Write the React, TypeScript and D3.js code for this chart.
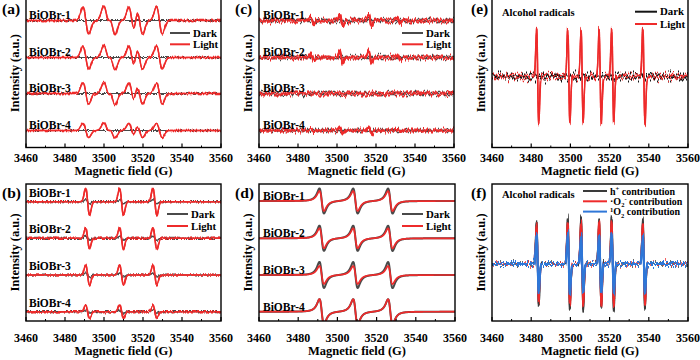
import React from "react";
import * as d3 from "d3";

// ---------- shared axis data ----------
const FIELD_DOMAIN: [number, number] = [3460, 3560];
const MAJOR_TICKS = [3460, 3480, 3500, 3520, 3540, 3560];
const MINOR_TICKS = [3470, 3490, 3510, 3530, 3550];
const SAMPLE_NAMES = ["BiOBr-1", "BiOBr-2", "BiOBr-3", "BiOBr-4"];

// ---------- (a) DMPO-·O2- spectra ----------
const aLinePositions = [3490.7, 3501.3, 3504.3, 3514.2, 3518.3, 3528.4];
const aLineRelative = [1, 1, 1, 1, 1, 1];
const aLineWidth = 1.5;
const aBaselines = [127, 90, 54, 17];
const aLightAmplitude = [13.5, 11.5, 10.5, 7];
const aDarkAmplitude = [0, 0, 0, 0];

// ---------- (b) TEMPO (h+) spectra ----------
const bLinePositions = [3491.6, 3509.0, 3526.1];
const bLineRelative = [1, 1, 1];
const bLineWidth = 1.0;
const bBaselines = [119.3, 82.7, 46, 9.3];
const bLightAmplitude = [13.3, 10.5, 10, 6.7];
const bDarkAmplitude = [2, 2, 2, 1.5];

// ---------- (c) DMPO-·OH spectra ----------
const cLinePositions = [3487.4, 3502.2, 3517.0, 3531.7];
const cLineRelative = [1, 2, 2, 1];
const cLineWidth = 0.8;
const cBaselines = [127, 90, 54, 17];
const cLightAmplitude = [2.8, 3, 0, 1.5];
const cDarkAmplitude = [0, 0, 0, 0];

// ---------- (d) TEMPO (e-) spectra ----------
const dLinePositions = [3492.0, 3509.2, 3527.0];
const dLineRelative = [1, 1, 1];
const dLineWidth = 2.0;
const dBaselines = [120, 82.7, 46, 9.3];
const dDarkAmplitude = [12.5, 12.6, 13, 12.5];
const dLightAmplitude = [10, 10, 9, 12.5];

// ---------- (e) alcohol radicals ----------
const eLinePositions = [3483.3, 3499.2, 3506.0, 3515.2, 3521.6, 3537.5];
const eLineWidth = 0.55;
const eBaseline = 71;
const eLightAmplitudes = [47, 46, 44, 45, 47, 46];
const eDarkAmplitudes = [0, 0, 0, 0, 0, 0];

// ---------- (f) contributions ----------
const fBaseline = 57;
const fHoleAmplitudes = [41, 46, 45, 43, 46, 44];
const fSuperoxideAmplitudes = [39, 41, 41, 42, 42, 40];
const fSingletAmplitudes = [29, 29, 28, 28, 29, 28];

// ---------- helpers ----------
const FIELD = d3.range(0, 2001).map((i) => FIELD_DOMAIN[0] + i * 0.05);
const gaussDeriv = (u: number) => (-u * Math.exp(-(u * u) / 2)) / 0.60653;
const lorDeriv = (u: number) => (-2 * u) / Math.pow(1 + u * u, 2) / 0.6495;

function spectrum(
  positions: number[],
  rel: number[],
  width: number,
  amp: number,
  offset: number,
  shape: (u: number) => number
): [number, number][] {
  return FIELD.map((f) => {
    let s = 0;
    for (let i = 0; i < positions.length; i++) s += rel[i] * shape((f - positions[i]) / width);
    return [f, offset + amp * s];
  });
}

const RED = "#ee2b2b";
const GRAY = "#4a4a4a";
const BLACK = "#141414";
const BLUE = "#2f77d8";
const FONT = "'Liberation Serif','Times New Roman',serif";

// noise rendering styles (scale of jitter in px)
const NOISE_LEVELS: Record<string, number> = { s: 4, m: 10, l: 19, f: 14 };
const NOISE_SEEDS = [1, 2, 3, 4];

type Trace = { data: [number, number][]; color: string; width: number; noise?: string; seeds?: number[] };
type LegendItem = { color: string; label: React.ReactNode };
type PanelCfg = {
  letter: string;
  x0: number; x1: number; y0: number; y1: number;
  tickY: number; titleY: number;
  traces: Trace[];
  labels?: { text: string; value: number }[];
  labelDx: number; labelDy: number;
  legend: { x: number; y: number; gap: number; len: number; font: number; items: LegendItem[] };
  note?: string;
};

function Panel({ cfg }: { cfg: PanelCfg }) {
  const x = d3.scaleLinear().domain(FIELD_DOMAIN).range([cfg.x0, cfg.x1]);
  const y = d3.scaleLinear().domain([0, cfg.y1 - cfg.y0]).range([cfg.y1, cfg.y0]);
  const line = d3.line<[number, number]>().x((d) => x(d[0])).y((d) => y(d[1]));
  const clipId = "clip-" + cfg.letter;
  const cy = (cfg.y0 + cfg.y1) / 2;
  return (
    <g>
      <clipPath id={clipId}>
        <rect x={cfg.x0} y={cfg.y0 - 2} width={cfg.x1 - cfg.x0} height={cfg.y1 - cfg.y0 + 2} />
      </clipPath>
      <g clipPath={`url(#${clipId})`}>
        {cfg.traces.map((t, i) => {
          const d = line(t.data) || "";
          if (!t.noise) {
            return <path key={i} d={d} fill="none" stroke={t.color} strokeWidth={t.width} strokeLinejoin="round" />;
          }
          return (
            <g key={i}>
              {(t.seeds || [1, 2]).map((s) => (
                <g key={s} filter={`url(#noise-${t.noise}-${s})`}>
                  <path d={d} fill="none" stroke={t.color} strokeWidth={t.width} strokeLinejoin="round" />
                </g>
              ))}
            </g>
          );
        })}
      </g>
      <rect x={cfg.x0} y={cfg.y0} width={cfg.x1 - cfg.x0} height={cfg.y1 - cfg.y0} fill="none" stroke="#000" strokeWidth={1.4} />
      {MAJOR_TICKS.map((t) => (
        <g key={"M" + t}>
          <line x1={x(t)} x2={x(t)} y1={cfg.y1} y2={cfg.y1 - 4} stroke="#000" strokeWidth={1.2} />
          <text x={x(t)} y={cfg.tickY} textAnchor="middle" fontSize={12} fontWeight="bold" fontFamily={FONT}>{t}</text>
        </g>
      ))}
      {MINOR_TICKS.map((t) => (
        <line key={"m" + t} x1={x(t)} x2={x(t)} y1={cfg.y1} y2={cfg.y1 - 2} stroke="#000" strokeWidth={1} />
      ))}
      <text x={(cfg.x0 + cfg.x1) / 2} y={cfg.titleY} textAnchor="middle" fontSize={12.5} fontWeight="bold" fontFamily={FONT}>Magnetic field (G)</text>
      <text transform={`translate(${cfg.x0 - 7},${cy}) rotate(-90)`} textAnchor="middle" fontSize={12.5} fontWeight="bold" fontFamily={FONT}>Intensity (a.u.)</text>
      {cfg.labels?.map((l, i) => (
        <text key={i} x={cfg.x0 + cfg.labelDx} y={y(l.value) + cfg.labelDy} fontSize={11.5} fontWeight="bold" fontFamily={FONT}>{l.text}</text>
      ))}
      {cfg.note && (
        <text x={cfg.x0 + 10} y={cfg.y0 + (cfg.y0 < 0 ? 17 : 14)} fontSize={10.5} fontWeight="bold" fontFamily={FONT}>{cfg.note}</text>
      )}
      {cfg.legend.items.map((it, i) => {
        const ly = cfg.legend.y + i * cfg.legend.gap;
        return (
          <g key={i}>
            <line x1={cfg.legend.x} x2={cfg.legend.x + cfg.legend.len} y1={ly} y2={ly} stroke={it.color} strokeWidth={2} />
            <text x={cfg.legend.x + cfg.legend.len + 3} y={ly + 3.6} fontSize={cfg.legend.font} fontWeight="bold" fontFamily={FONT}>{it.label}</text>
          </g>
        );
      })}
      <text x={cfg.letter === "e" || cfg.letter === "f" ? cfg.x0 - 21 : cfg.x0 - 24} y={cfg.y0 < 0 ? 14 : cfg.y0 + 13.5} fontSize={15.5} fontWeight="bold" fontFamily={FONT}>({cfg.letter})</text>
    </g>
  );
}

const darkLight: LegendItem[] = [
  { color: GRAY, label: "Dark" },
  { color: RED, label: "Light" },
];

function stacked(
  positions: number[], rel: number[], width: number, baselines: number[],
  darkAmp: number[], lightAmp: number[], shape: (u: number) => number,
  darkW: number, lightW: number, noise?: string
): Trace[] {
  const out: Trace[] = [];
  baselines.forEach((b, i) => {
    out.push({ data: spectrum(positions, rel, width, darkAmp[i], b, shape), color: GRAY, width: darkW, noise, seeds: [1, 2] });
    out.push({ data: spectrum(positions, rel, width, lightAmp[i], b, shape), color: RED, width: lightW, noise, seeds: [3, 4] });
  });
  return out;
}

const TOP = { y0: -1, y1: 147.5, tickY: 161.5, titleY: 174.5 };
const BOT = { y0: 184, y1: 321, tickY: 342, titleY: 355 };

export default function App() {
  const panels: PanelCfg[] = [
    {
      letter: "a", x0: 26, x1: 221, ...TOP,
      traces: stacked(aLinePositions, aLineRelative, aLineWidth, aBaselines, aDarkAmplitude, aLightAmplitude, gaussDeriv, 1.2, 1.4, "s"),
      labels: SAMPLE_NAMES.map((t, i) => ({ text: t, value: aBaselines[i] })), labelDx: 3, labelDy: -2,
      legend: { x: 170, y: 33, gap: 11.3, len: 20, font: 10.8, items: darkLight },
    },
    {
      letter: "b", x0: 26, x1: 221, ...BOT,
      traces: stacked(bLinePositions, bLineRelative, bLineWidth, bBaselines, bDarkAmplitude, bLightAmplitude, gaussDeriv, 1.2, 1.5, "s"),
      labels: SAMPLE_NAMES.map((t, i) => ({ text: t, value: bBaselines[i] })), labelDx: 3, labelDy: -5,
      legend: { x: 167, y: 214, gap: 12, len: 21, font: 10.8, items: darkLight },
    },
    {
      letter: "c", x0: 259, x1: 454, ...TOP,
      traces: stacked(cLinePositions, cLineRelative, cLineWidth, cBaselines, cDarkAmplitude, cLightAmplitude, gaussDeriv, 1.3, 2, "m"),
      labels: SAMPLE_NAMES.map((t, i) => ({ text: t, value: cBaselines[i] })), labelDx: 4, labelDy: -2,
      legend: { x: 402, y: 33, gap: 11.3, len: 21, font: 10.8, items: darkLight },
    },
    {
      letter: "d", x0: 259, x1: 455, ...BOT,
      traces: stacked(dLinePositions, dLineRelative, dLineWidth, dBaselines, dDarkAmplitude, dLightAmplitude, lorDeriv, 2, 1.7),
      labels: SAMPLE_NAMES.map((t, i) => ({ text: t, value: dBaselines[i] })), labelDx: 4, labelDy: -1,
      legend: { x: 402, y: 214, gap: 12, len: 21, font: 10.8, items: darkLight },
    },
    {
      letter: "e", x0: 492, x1: 688, ...TOP,
      traces: [
        { data: spectrum(eLinePositions, eDarkAmplitudes, eLineWidth, 1, eBaseline, gaussDeriv), color: BLACK, width: 1.8, noise: "l", seeds: [1, 2] },
        { data: spectrum(eLinePositions, eLightAmplitudes, eLineWidth, 1, eBaseline, gaussDeriv), color: RED, width: 1.5, noise: "l", seeds: [3, 4] },
      ],
      labelDx: 0, labelDy: 0,
      note: "Alcohol radicals",
      legend: { x: 635, y: 11.7, gap: 12.3, len: 22, font: 10.8, items: [{ color: BLACK, label: "Dark" }, { color: RED, label: "Light" }] },
    },
    {
      letter: "f", x0: 492, x1: 688, ...BOT,
      traces: [
        { data: spectrum(eLinePositions, fHoleAmplitudes, eLineWidth, 1, fBaseline, gaussDeriv), color: "#3a3a3a", width: 1.6, noise: "f", seeds: [1, 2] },
        { data: spectrum(eLinePositions, fSuperoxideAmplitudes, eLineWidth, 1, fBaseline, gaussDeriv), color: RED, width: 1.6, noise: "f", seeds: [3, 4] },
        { data: spectrum(eLinePositions, fSingletAmplitudes, eLineWidth, 1, fBaseline, gaussDeriv), color: BLUE, width: 2, noise: "f", seeds: [2, 3] },
      ],
      labelDx: 0, labelDy: 0,
      note: "Alcohol radicals",
      legend: {
        x: 583, y: 191, gap: 10.3, len: 24, font: 10,
        items: [
          { color: "#3a3a3a", label: <>h<tspan dy={-3.5} fontSize={6.5}>+</tspan><tspan dy={3.5}> contribution</tspan></> },
          { color: RED, label: <>·O<tspan dy={2.5} fontSize={6.5}>2</tspan><tspan dy={-6} fontSize={6.5}>-</tspan><tspan dy={3.5}> contribution</tspan></> },
          { color: BLUE, label: <><tspan dy={-3.5} fontSize={6.5}>1</tspan><tspan dy={3.5}>O</tspan><tspan dy={2.5} fontSize={6.5}>2</tspan><tspan dy={-2.5}> contribution</tspan></> },
        ],
      },
    },
  ];

  const filters: React.ReactNode[] = [];
  Object.entries(NOISE_LEVELS).forEach(([lvl, scale]) => {
    NOISE_SEEDS.forEach((seed) => {
      filters.push(
        <filter key={lvl + seed} id={`noise-${lvl}-${seed}`} filterUnits="userSpaceOnUse" x={0} y={-20} width={700} height={400}>
          <feTurbulence type="fractalNoise" baseFrequency="0.6 0.015" numOctaves={3} seed={seed * 7 + lvl.charCodeAt(0)} result="t" />
          <feColorMatrix in="t" type="matrix" values="0 0 0 0 0.5  0 1 0 0 0  0 0 1 0 0  0 0 0 0 1" result="n" />
          <feDisplacementMap in="SourceGraphic" in2="n" scale={scale} xChannelSelector="R" yChannelSelector="G" />
        </filter>
      );
    });
  });

  return (
    <svg width={700} height={360} style={{ position: "absolute", left: 0, top: 0, background: "#fff" }}>
      <defs>{filters}</defs>
      <rect width={700} height={360} fill="#fff" />
      {panels.map((p) => <Panel key={p.letter} cfg={p} />)}
    </svg>
  );
}
